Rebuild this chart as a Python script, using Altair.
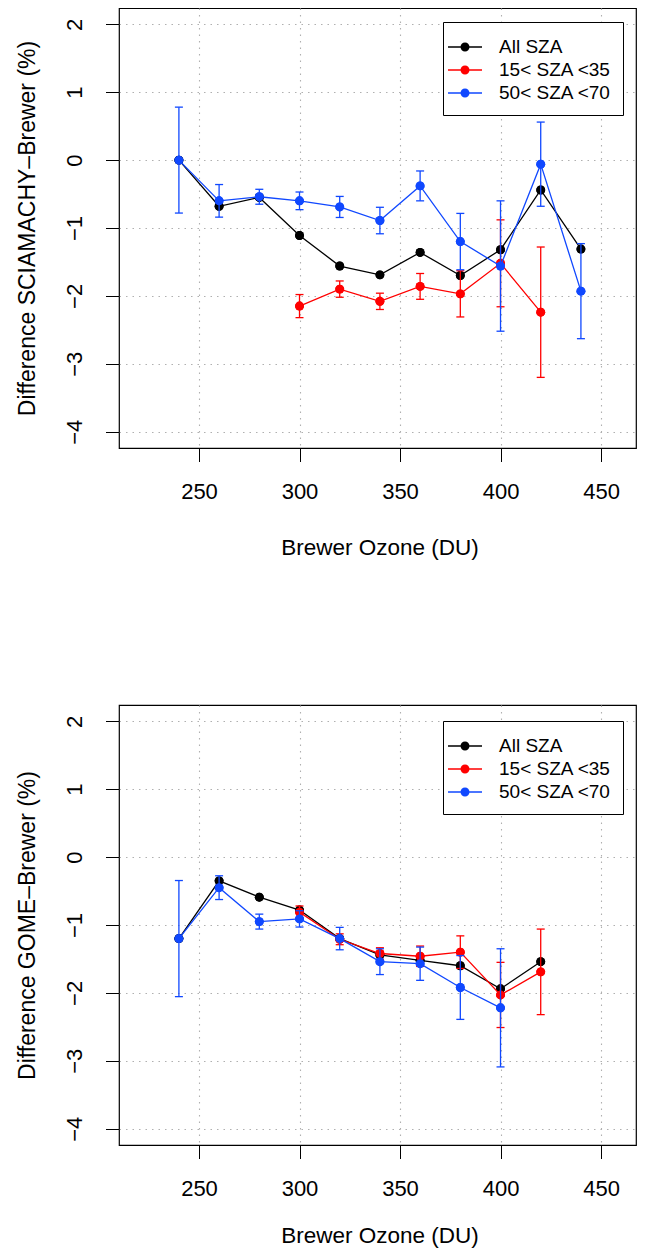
import altair as alt
import pandas as pd

FONT = "Liberation Sans"

series_names = ["All SZA", "15< SZA <35", "50< SZA <70"]
series_colors = ["#000000", "#ff0000", "#1048ff"]

x_ticks = [250, 300, 350, 400, 450]
y_ticks = [-4, -3, -2, -1, 0, 1, 2]

# ---- Panel 1: SCIAMACHY - Brewer ----
sci_all_x = [240, 260, 280, 300, 320, 340, 360, 380, 400, 420, 440]
sci_all_y = [0.0, -0.68, -0.55, -1.11, -1.56, -1.69, -1.36, -1.70, -1.32, -0.44, -1.31]

sci_low_x = [300, 320, 340, 360, 380, 400, 420]
sci_low_y = [-2.15, -1.90, -2.08, -1.86, -1.97, -1.52, -2.24]
sci_low_err = [0.17, 0.12, 0.12, 0.19, 0.34, 0.64, 0.96]

sci_high_x = [240, 260, 280, 300, 320, 340, 360, 380, 400, 420, 440]
sci_high_y = [0.0, -0.60, -0.54, -0.60, -0.69, -0.89, -0.38, -1.20, -1.56, -0.06, -1.93]
sci_high_err = [0.78, 0.24, 0.11, 0.13, 0.155, 0.195, 0.22, 0.415, 0.96, 0.62, 0.70]

# ---- Panel 2: GOME - Brewer ----
gome_all_x = [240, 260, 280, 300, 320, 340, 360, 380, 400, 420]
gome_all_y = [-1.20, -0.35, -0.59, -0.78, -1.20, -1.44, -1.52, -1.60, -1.94, -1.54]

gome_low_x = [300, 320, 340, 360, 380, 400, 420]
gome_low_y = [-0.81, -1.21, -1.42, -1.46, -1.40, -2.03, -1.69]
gome_low_err = [0.09, 0.08, 0.085, 0.15, 0.24, 0.48, 0.63]

gome_high_x = [240, 260, 280, 300, 320, 340, 360, 380, 400]
gome_high_y = [-1.20, -0.45, -0.95, -0.91, -1.20, -1.54, -1.57, -1.92, -2.22]
gome_high_err = [0.855, 0.175, 0.11, 0.12, 0.165, 0.19, 0.245, 0.47, 0.87]

# legend glyph: horizontal line with a filled dot (unit = sqrt(size)/2 = 13 px)
LEGEND_SYMBOL = ("M-1.538,-0.05L1.078,-0.05L1.078,0.05L-1.538,0.05Z "
                 "M0.116,0A0.346,0.346,0,1,1,-0.576,0A0.346,0.346,0,1,1,0.116,0Z")

W, H = 517, 440


def make_panel(xs, ys, errs, ytitle, legend_y, xtitle_y):
    color_scale = alt.Scale(domain=series_names, range=series_colors)
    x_axis = alt.Axis(values=x_ticks, title="Brewer Ozone (DU)", grid=True,
                      domain=False, tickSize=13.5, tickColor="black", tickWidth=1,
                      labelFont=FONT, labelFontSize=22, labelColor="black",
                      labelBaseline="alphabetic", labelPadding=36.5,
                      titleFont=FONT, titleFontSize=22.5, titleFontWeight="normal",
                      titleColor="black", titleBaseline="alphabetic",
                      titleX=W / 2 + 2, titleY=xtitle_y,
                      gridColor="#b0b0b0", gridDash=[1.5, 5], gridWidth=1.1)
    y_axis = alt.Axis(values=y_ticks, title=ytitle, grid=True,
                      domain=False, tickSize=13.5, tickColor="black", tickWidth=1,
                      labelFont=FONT, labelFontSize=22, labelColor="black",
                      labelAngle=270, labelAlign="center", labelBaseline="alphabetic",
                      labelPadding=24,
                      titleFont=FONT, titleFontSize=23, titleFontWeight="normal",
                      titleColor="black", titleAngle=270, titleAlign="center",
                      titleBaseline="alphabetic", titleX=-85, titleY=H / 2,
                      gridColor="#b0b0b0", gridDash=[1.5, 5], gridWidth=1.1)
    xs_scale = alt.Scale(domain=[210.2, 467.4], nice=False, zero=False)
    ys_scale = alt.Scale(domain=[-4.24, 2.24], nice=False, zero=False)
    legend = alt.Legend(orient="none", legendX=324, legendY=legend_y, title=None,
                        labelFont=FONT, labelFontSize=19, labelColor="black",
                        symbolType=LEGEND_SYMBOL, symbolSize=676,
                        symbolStrokeWidth=0, symbolOpacity=1,
                        strokeColor="black", fillColor="white", padding=12,
                        labelOffset=18, rowPadding=-4.5, labelLimit=0)

    X = alt.X("x:Q", scale=xs_scale, axis=x_axis)
    Y = alt.Y("y:Q", scale=ys_scale, axis=y_axis)
    C = alt.Color("series:N", scale=color_scale, legend=None)

    frames = []
    for i, name in enumerate(series_names):
        df = pd.DataFrame({"x": xs[i], "y": ys[i], "series": name})
        if errs[i] is not None:
            df["lo"] = [v - e for v, e in zip(ys[i], errs[i])]
            df["hi"] = [v + e for v, e in zip(ys[i], errs[i])]
        frames.append(df)

    # first layer carries the legend (points of all series, redrawn later)
    all_pts = pd.concat([f[["x", "y", "series"]] for f in frames], ignore_index=True)
    layers = [alt.Chart(all_pts).mark_circle(size=80, opacity=1).encode(
        x=X, y=Y, color=alt.Color("series:N", scale=color_scale, legend=legend))]

    for i, df in enumerate(frames):
        base = alt.Chart(df)
        layers.append(base.mark_line(strokeWidth=1.3).encode(x=X, y=Y, color=C))
        if errs[i] is not None:
            layers.append(base.mark_rule(strokeWidth=1.3).encode(
                x=X, y=alt.Y("lo:Q", scale=ys_scale, axis=y_axis), y2="hi:Q", color=C))
            for fld in ["lo", "hi"]:
                layers.append(base.mark_tick(orient="horizontal", size=8, thickness=1.3,
                                             opacity=1).encode(
                    x=X, y=alt.Y(f"{fld}:Q", scale=ys_scale, axis=y_axis), color=C))
        layers.append(base.mark_circle(size=80, opacity=1).encode(x=X, y=Y, color=C))
    return alt.layer(*layers).properties(width=W, height=H)


top = make_panel([sci_all_x, sci_low_x, sci_high_x],
                 [sci_all_y, sci_low_y, sci_high_y],
                 [None, sci_low_err, sci_high_err],
                 "Difference SCIAMACHY\u2013Brewer (%)", 14, 106)
bottom = make_panel([gome_all_x, gome_low_x, gome_high_x],
                    [gome_all_y, gome_low_y, gome_high_y],
                    [None, gome_low_err, gome_high_err],
                    "Difference GOME\u2013Brewer (%)", 16, 97)

chart = alt.vconcat(top, bottom, spacing=257).properties(
    bounds="flush",
    padding={"left": 7, "top": -1, "right": 0, "bottom": 0},
).resolve_scale(color="independent").resolve_legend(color="independent").configure(
    background="white",
    view=alt.ViewConfig(stroke="black", strokeWidth=1.2),
)

chart.save("out.html", embed_options={"renderer": "svg", "actions": False})
